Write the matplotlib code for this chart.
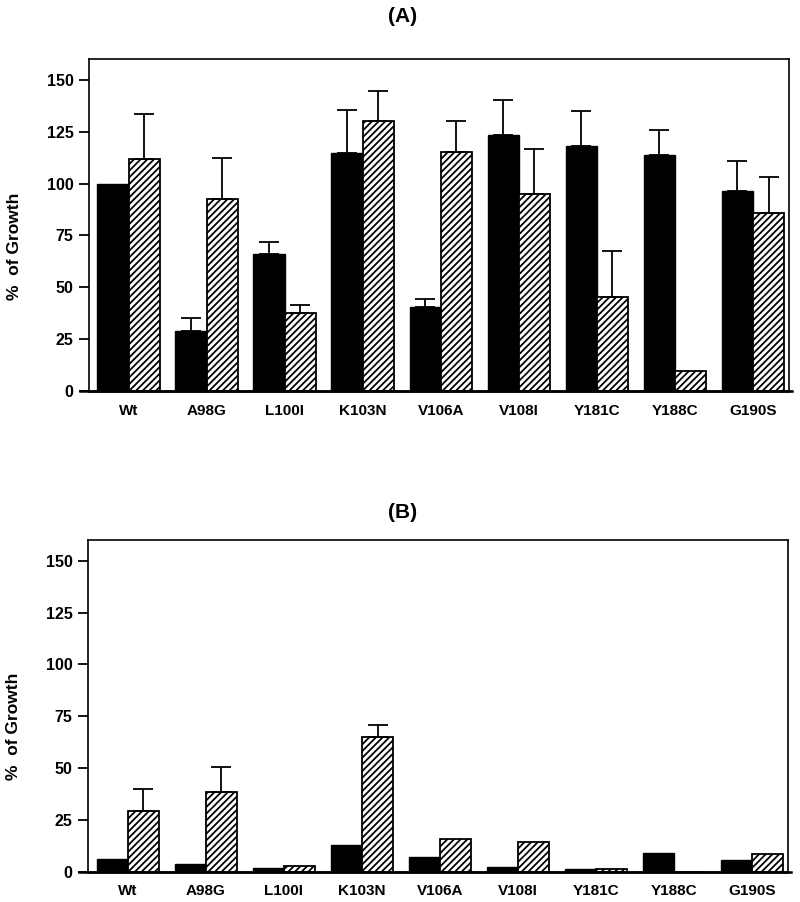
import numpy as np
import matplotlib.pyplot as plt

plt.rcParams['font.family'] = ['Liberation Sans', 'DejaVu Sans']
plt.rcParams['font.weight'] = 'bold'
plt.rcParams['hatch.linewidth'] = 1.3

mutants = ['Wt', 'A98G', 'L100I', 'K103N', 'V106A', 'V108I', 'Y181C', 'Y188C', 'G190S']

# panel A
a_black = [100, 29, 66, 114.5, 40.5, 123.5, 118, 114, 96.5]
a_black_err = [0, 6, 6, 21, 4, 17, 17, 12, 14.5]
a_hatch = [112, 92.5, 37.5, 130, 115, 95, 45.5, 9.5, 86]
a_hatch_err = [21.5, 20, 4, 14.5, 15, 21.5, 22, 0, 17]

# panel B
b_black = [6, 3.6, 1.9, 12.9, 7.2, 2.4, 1.1, 8.9, 5.6]
b_black_err = [0, 0, 0, 0, 0, 0, 0, 0, 0]
b_hatch = [29.3, 38.6, 2.7, 65, 15.8, 14.3, 1.1, 0, 8.7]
b_hatch_err = [10.5, 11.8, 0, 6, 0, 0, 0, 0, 0]

fig = plt.figure(figsize=(8, 9.02), dpi=100)
ax_a = fig.add_axes([0.111, 0.5665, 0.875, 0.368])
ax_b = fig.add_axes([0.110, 0.0336, 0.875, 0.3677])

w = 0.40
x = np.arange(len(mutants))


def draw(ax, black, black_err, hatch, hatch_err):
    ax.bar(x - w / 2, black, w, color='black', edgecolor='black', linewidth=1)
    ax.bar(x + w / 2, hatch, w, color='white', edgecolor='black', linewidth=1.3, hatch='/////')
    for xs, vals, errs in [(x - w / 2, black, black_err), (x + w / 2, hatch, hatch_err)]:
        vals = np.array(vals, dtype=float)
        errs = np.array(errs, dtype=float)
        m = errs > 0
        ax.errorbar(xs[m], vals[m], yerr=[np.zeros(m.sum()), errs[m]], fmt='none',
                    ecolor='black', elinewidth=1.3, capsize=7, capthick=1.3)
    ax.set_xlim(-0.51, 8.46)
    ax.set_ylim(0, 160)
    ax.set_yticks([0, 25, 50, 75, 100, 125, 150])
    ax.set_xticks(x)
    ax.set_xticklabels(mutants, fontsize=11, fontweight='bold')
    ax.tick_params(axis='x', length=0, pad=9)
    ax.tick_params(axis='y', length=7, width=1.3, labelsize=11.5, pad=4)
    for s in ['top', 'right', 'left']:
        ax.spines[s].set_linewidth(1.2)
    ax.spines['bottom'].set_linewidth(1.8)
    ax.axhline(0, xmin=-0.013, xmax=1.004, color='black', lw=1.8, clip_on=False)
    ax.set_ylabel('%  of Growth', fontsize=12.5, fontweight='bold')
    ax.yaxis.set_label_coords(-0.096, 0.437)


draw(ax_a, a_black, a_black_err, a_hatch, a_hatch_err)
draw(ax_b, b_black, b_black_err, b_hatch, b_hatch_err)

fig.text(403 / 800, 1 - 17 / 902, '(A)', ha='center', va='center', fontsize=15, fontweight='bold')
fig.text(403 / 800, 1 - 513 / 902, '(B)', ha='center', va='center', fontsize=15, fontweight='bold')

fig.savefig('out.png', dpi=100)
